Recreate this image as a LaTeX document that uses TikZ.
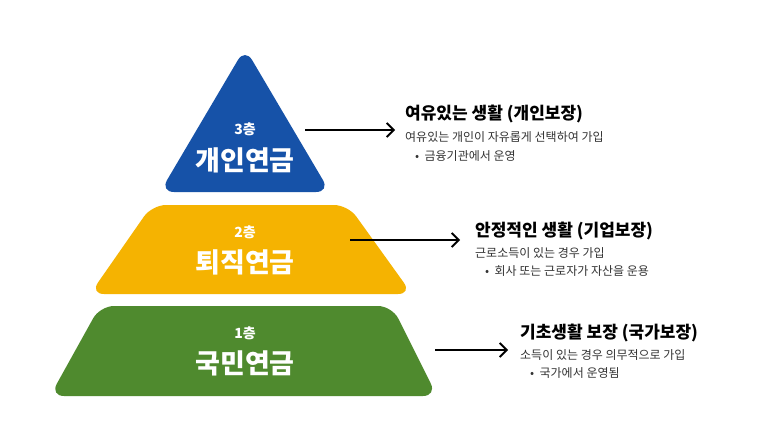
\documentclass[tikz,border=0pt]{standalone}
\usepackage{fontspec}
\setmainfont{Noto Sans CJK KR}
\usetikzlibrary{arrows.meta}
\definecolor{cblue}{HTML}{1652A8}
\definecolor{cyel}{HTML}{F5B301}
\definecolor{cgreen}{HTML}{4F8A2E}
\tikzset{
 lay/.style={fill=#1, rounded corners=14pt},
 lvl/.style={text=white, font=\bfseries\fontsize{14}{14}\selectfont},
 big/.style={text=white, font=\bfseries\fontsize{27}{27}\selectfont},
 arr/.style={-{Straight Barb[length=7pt,width=14pt,line width=1.8pt]}, line width=1.8pt},
 ttl/.style={anchor=west, font=\bfseries\fontsize{17}{17}\selectfont, inner sep=0},
 sub/.style={anchor=west, font=\fontsize{12}{12}\selectfont, text=black!80, inner sep=0},
}
\begin{document}
\begin{tikzpicture}[x=1pt,y=-1pt]
\useasboundingbox[fill=white] (0,0) rectangle (772,442);
\fill[lay=cblue] (245,48) -- (330,192) -- (160,192) -- cycle;
\fill[lay=cyel] (152,205) -- (348,205) -- (412,294) -- (90,294) -- cycle;
\fill[lay=cgreen] (100,306) -- (392,306) -- (437,396) -- (50,396) -- cycle;
\node[lvl] (l3) at (245,129) {3층};
\node[big] (p3) at (245,160) {개인연금};
\node[lvl] (l2) at (245,232) {2층};
\node[big] (p2) at (245,262) {퇴직연금};
\node[lvl] (l1) at (245,333) {1층};
\node[big] (p1) at (245,363) {국민연금};
\coordinate (a3) at (305,130); \coordinate (a2) at (350,240); \coordinate (a1) at (435,350);
\node[ttl] (t3) at (405,114) {여유있는 생활 (개인보장)};
\node[sub] (s3) at (405,137) {여유있는 개인이 자유롭게 선택하여 가입};
\node[sub] (b3) at (415,156) {•\ \ 금융기관에서 운영};
\node[ttl] (t2) at (475,231) {안정적인 생활 (기업보장)};
\node[sub] (s2) at (475,253) {근로소득이 있는 경우 가입};
\node[sub] (b2) at (485,271) {•\ \ 회사 또는 근로자가 자산을 운용};
\node[ttl] (t1) at (520,333) {기초생활 보장 (국가보장)};
\node[sub] (s1) at (520,355) {소득이 있는 경우 의무적으로 가입};
\node[sub] (b1) at (530,373) {•\ \ 국가에서 운영됨};
\draw[arr] (a3) -- (395,130);
\draw[arr] (a2) -- (460,240);
\draw[arr] (a1) -- (508,350);
\end{tikzpicture}
\end{document}
